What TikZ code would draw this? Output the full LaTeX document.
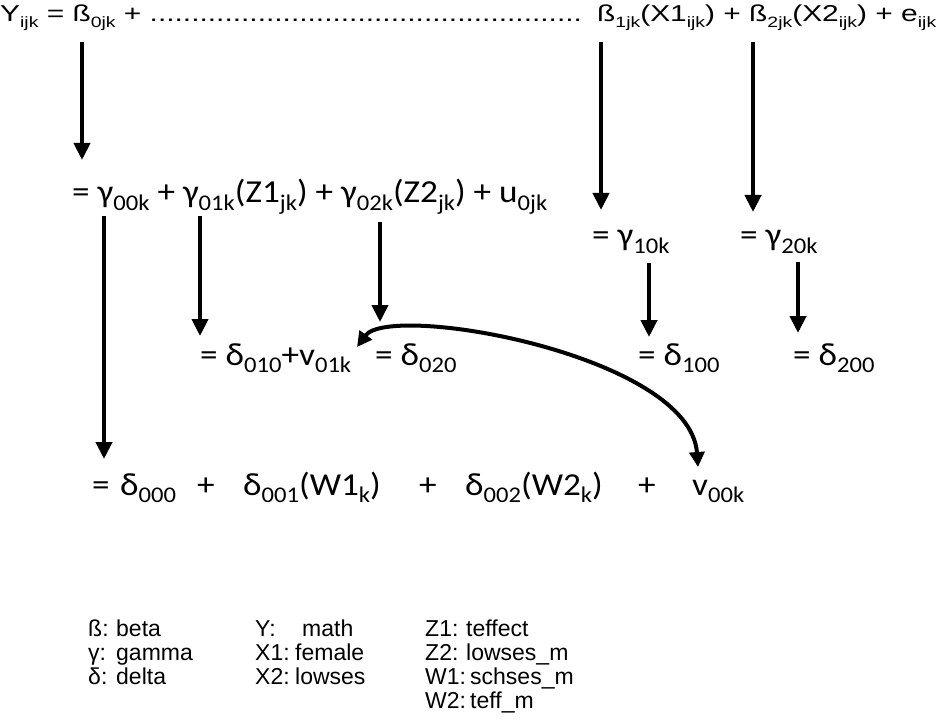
\documentclass[tikz,border=0pt]{standalone}
\usepackage{fontspec}
\usepackage{graphicx}
\usetikzlibrary{arrows.meta}
\newfontfamily\arialf{Liberation Sans}
\newfontfamily\calf{Carlito}
\newcommand\sbs[1]{\raisebox{-0.25em}{\scalebox{0.65}{#1}}}
\newcommand\sbc[1]{\raisebox{-0.22em}{\scalebox{0.7}{#1}}}
\newcommand\ax[1]{\scalebox{1.3}[1]{#1}}
\newcommand\cx[1]{\scalebox{1.1}[1]{#1}}
\begin{document}
\begin{tikzpicture}[x=1pt,y=-1pt,
  rowA/.style={inner sep=0pt, anchor=base west, font=\arialf\fontsize{23}{28}\selectfont},
  rowC/.style={inner sep=0pt, anchor=base west, font=\calf\fontsize{32}{38}\selectfont},
  leg/.style={inner sep=0pt, anchor=base west, font=\arialf\fontsize{23}{28}\selectfont},
  arr/.style={line width=4pt, -{Triangle[length=17pt,width=16pt]}},
  dbl/.style={line width=4pt, {Triangle[length=15pt,width=15pt]}-{Triangle[length=15pt,width=15pt]}}]
\fill[white] (0,0) rectangle (944,727);
\useasboundingbox (0,0) rectangle (944,727);

% row 1
\node[rowA] (r1a) at (0,22) {\ax{Y\sbs{ijk} = ß\sbs{0jk} + ....................................................}};
\node[rowA] (r1b) at (597,22) {\ax{ß\sbs{1jk}(X1\sbs{ijk}) + ß\sbs{2jk}(X2\sbs{ijk}) + e\sbs{ijk}}};

% row 2
\node[rowC] (r2) at (72,203) {\cx{= γ\sbc{00k} + γ\sbc{01k}(Z1\sbc{jk}) + γ\sbc{02k}(Z2\sbc{jk}) + u\sbc{0jk}}};
\node[rowC] (g10) at (592,246) {\cx{= γ\sbc{10k}}};
\node[rowC] (g20) at (740,246) {\cx{= γ\sbc{20k}}};

% row 3
\node[rowC] (r3a) at (200,365) {\cx{= δ\sbc{010}+v\sbc{01k}}};
\node[rowC] (r3b) at (375,365) {\cx{= δ\sbc{020}}};
\node[rowC] (d100) at (638,365) {\cx{= δ\sbc{100}}};
\node[rowC] (d200) at (793,365) {\cx{= δ\sbc{200}}};

% row 4
\node[rowC] (e4) at (92,495) {\cx{=}};
\node[rowC] (d000) at (120,495) {\cx{δ\sbc{000}}};
\node[rowC] (p1) at (197,495) {\cx{+}};
\node[rowC] (d001) at (243,495) {\cx{δ\sbc{001}(W1\sbc{k})}};
\node[rowC] (p2) at (419,495) {\cx{+}};
\node[rowC] (d002) at (465,495) {\cx{δ\sbc{002}(W2\sbc{k})}};
\node[rowC] (p3) at (638,495) {\cx{+}};
\node[rowC] (v00k) at (692,495) {\cx{v\sbc{00k}}};

% arrow end points
\coordinate (a1s) at (82,42);   \coordinate (a1e) at (82,160);
\coordinate (a2s) at (601,42);  \coordinate (a2e) at (601,210);
\coordinate (a3s) at (753,42);  \coordinate (a3e) at (753,212);
\coordinate (a4s) at (104,216); \coordinate (a4e) at (104,459);
\coordinate (a5s) at (200,216); \coordinate (a5e) at (200,336);
\coordinate (a6s) at (380,222); \coordinate (a6e) at (380,322);
\coordinate (a7s) at (649,263); \coordinate (a7e) at (649,337);
\coordinate (a8s) at (798,262); \coordinate (a8e) at (798,333);
\coordinate (cv1) at (357,347); \coordinate (cv2) at (698,467);

\draw[arr] (a1s) -- (a1e);
\draw[arr] (a2s) -- (a2e);
\draw[arr] (a3s) -- (a3e);
\draw[arr] (a4s) -- (a4e);
\draw[arr] (a5s) -- (a5e);
\draw[arr] (a6s) -- (a6e);
\draw[arr] (a7s) -- (a7e);
\draw[arr] (a8s) -- (a8e);
\draw[dbl] (cv1) .. controls (390,302) and (690,355) .. (cv2);

% legend
\node[leg] (l1) at (88,636) {\makebox[28pt][l]{ß:}beta};
\node[leg] (l2) at (88,660) {\makebox[28pt][l]{γ:}gamma};
\node[leg] (l3) at (88,684) {\makebox[28pt][l]{δ:}delta};
\node[leg] (l4) at (255,636) {\makebox[47pt][l]{Y:}math};
\node[leg] (l5) at (255,660) {\makebox[40pt][l]{X1:}female};
\node[leg] (l6) at (255,684) {\makebox[40pt][l]{X2:}lowses};
\node[leg] (l7) at (425,636) {\makebox[41pt][l]{Z1:}teffect};
\node[leg] (l8) at (425,660) {\makebox[41pt][l]{Z2:}lowses\_m};
\node[leg] (l9) at (425,684) {\makebox[45pt][l]{W1:}schses\_m};
\node[leg] (l10) at (425,708) {\makebox[45pt][l]{W2:}teff\_m};
\end{tikzpicture}
\end{document}
